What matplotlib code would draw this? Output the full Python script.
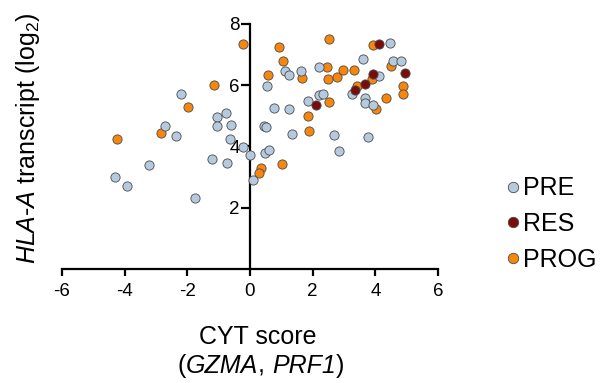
import matplotlib
matplotlib.use("Agg")
import matplotlib.pyplot as plt
from matplotlib.lines import Line2D
from matplotlib.offsetbox import TextArea, HPacker, AnchoredOffsetbox

plt.rcParams['font.family'] = ['Liberation Sans', 'DejaVu Sans']
plt.rcParams['mathtext.fontset'] = 'custom'
plt.rcParams['mathtext.rm'] = 'Liberation Sans'
plt.rcParams['mathtext.it'] = 'Liberation Sans:italic'
plt.rcParams['mathtext.bf'] = 'Liberation Sans:bold'

# ---- data ----
pre_x = [-2.19, -1.06, -0.77, -1.06, -0.62, -2.72, -2.36, -0.64, -0.23, 0.00, -1.21, -0.74,
         -3.23, -4.30, -3.94, -1.74, 0.09,
         4.47, 1.11, 1.23, 0.55, 1.64, 2.19, 3.62, 4.55, 4.81, 4.11, 3.26, 3.68, 3.66, 3.92,
         2.19, 2.32, 1.84, 0.77, 1.26, 0.45, 0.51, 1.35, 2.67, 3.76, 2.83, 0.49, 0.62]
pre_y = [5.72, 4.95, 5.08, 4.67, 4.70, 4.66, 4.34, 4.24, 3.97, 3.73, 3.60, 3.45,
         3.38, 3.00, 2.71, 2.32, 2.90,
         7.37, 6.48, 6.32, 5.98, 6.47, 6.61, 6.87, 6.78, 6.80, 6.31, 5.71, 5.59, 5.42, 5.36,
         5.68, 5.72, 5.48, 5.27, 5.23, 4.68, 4.62, 4.42, 4.36, 4.31, 3.84, 3.79, 3.87]

res_x = [4.13, 4.96, 3.94, 3.68, 3.36, 2.11]
res_y = [7.33, 6.41, 6.36, 6.04, 5.86, 5.36]

prog_x = [-0.21, -1.15, -1.98, -2.85, -4.24, 0.94, 2.53, 3.92, 1.06, 0.57, 1.67, 2.47, 2.50,
          2.79, 2.98, 3.33, 4.49, 3.90, 3.40, 4.02, 4.33, 4.87, 4.87, 2.51, 1.84, 1.87,
          1.03, 0.34, 0.30]
prog_y = [7.35, 6.02, 5.30, 4.44, 4.25, 7.24, 7.52, 7.32, 6.78, 6.34, 6.25, 6.60, 6.21,
          6.28, 6.49, 6.49, 6.63, 6.21, 5.96, 5.23, 5.57, 5.96, 5.70, 5.46, 4.99, 4.50,
          3.42, 3.29, 3.12]

groups = ['PRE', 'RES', 'PROG']
colors = {'PRE': '#b6cadf', 'RES': '#7a0c0c', 'PROG': '#f7860c'}
x_ticks = [-6, -4, -2, 0, 2, 4, 6]
y_ticks = [2, 4, 6, 8]

fig = plt.figure(figsize=(6.09, 3.83), dpi=100)
ax = fig.add_axes([0.1018, 0.2977, 0.6174, 0.6397])

edge = '#4a4a4a'
ms = 44
ax.scatter(prog_x, prog_y, s=ms, c=colors['PROG'], edgecolors=edge, linewidths=0.6, zorder=3)
ax.scatter(pre_x, pre_y, s=ms, c=colors['PRE'], edgecolors=edge, linewidths=0.6, zorder=4)
ax.scatter(res_x, res_y, s=ms, c=colors['RES'], edgecolors=edge, linewidths=0.6, zorder=5)

ax.set_xlim(-6, 6)
ax.set_ylim(0, 8)
ax.spines['top'].set_visible(False)
ax.spines['right'].set_visible(False)
ax.spines['left'].set_position(('data', 0))
ax.spines['bottom'].set_position(('data', 0))
for s in ['left', 'bottom']:
    ax.spines[s].set_linewidth(1.6)
    ax.spines[s].set_capstyle('projecting')
ax.set_xticks(x_ticks)
ax.set_xticklabels([str(t) for t in x_ticks])
ax.set_yticks(y_ticks)
ax.set_yticklabels([str(t) for t in y_ticks])
ax.tick_params(axis='x', direction='out', length=5, width=1.6, labelsize=13.5, pad=5)
ax.tick_params(axis='y', direction='out', length=6.5, width=1.6, labelsize=13.5, pad=1)

fig.text(0.046, 0.64, r"$\mathit{HLA}$-$\mathit{A}$ transcript (log$_2$)", rotation=90,
         ha='center', va='center', fontsize=18)
fig.text(0.423, 0.12, "CYT score", ha='center', va='center', fontsize=18)

fs = 18
parts = [("(", 'normal'), ("GZMA", 'italic'), (", ", 'normal'), ("PRF1", 'italic'), (")", 'normal')]
areas = [TextArea(t, textprops=dict(fontsize=fs, fontstyle=st)) for t, st in parts]
pack = HPacker(children=areas, align='baseline', pad=0, sep=0)
anch = AnchoredOffsetbox(loc='center', child=pack, frameon=False, pad=0, borderpad=0,
                         bbox_to_anchor=(0.428, 0.045), bbox_transform=fig.transFigure)
fig.add_artist(anch)

handles = [Line2D([], [], marker='o', linestyle='none', markersize=7.5,
                  markerfacecolor=colors[g], markeredgecolor=edge, markeredgewidth=0.6)
           for g in groups]
fig.legend(handles, groups, loc='center left', bbox_to_anchor=(0.81, 0.415),
           frameon=False, fontsize=18, handletextpad=0.0, labelspacing=0.47,
           handlelength=0.8, borderaxespad=0)

fig.savefig('out.png', dpi=100)
